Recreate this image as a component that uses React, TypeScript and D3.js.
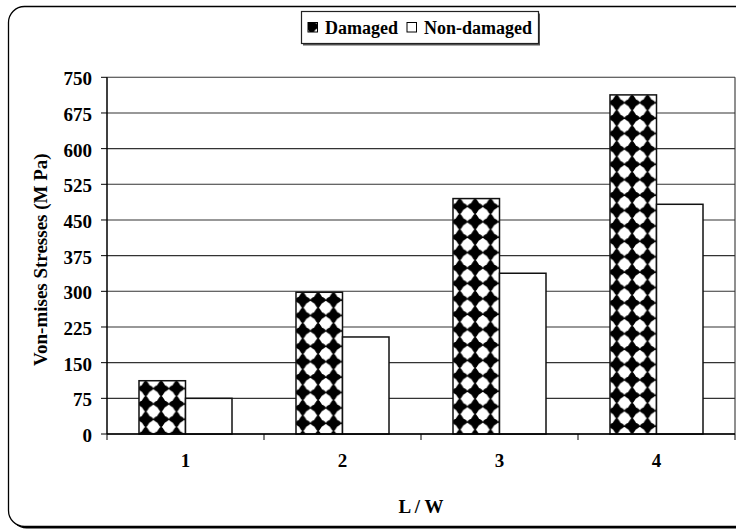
import React from "react";
import * as d3 from "d3";

const categories = ["1", "2", "3", "4"];
const seriesNames = ["Damaged", "Non-damaged"];
const damaged = [112, 298, 495, 713];
const nonDamaged = [75, 204, 338, 483];
const yTicks = [0, 75, 150, 225, 300, 375, 450, 525, 600, 675, 750];
const yTitle = "Von-mises Stresses (M Pa)";
const xTitle = "L / W";

const W = 736;
const H = 531;
const FONT = "'Liberation Serif', 'Times New Roman', serif";
const TILE = 15.4;

const left = 107;
const right = 735;
const top = 77.3;
const bottom = 434;

function PatternDef({ id, x, y }: { id: string; x: number; y: number }) {
  const s = TILE;
  const h = s / 2;
  const r = s * 0.37;
  return (
    <pattern id={id} patternUnits="userSpaceOnUse" x={x} y={y} width={s} height={s}>
      <rect width={s} height={s} fill="#fff" />
      <polygon points={`${h},-0.6 ${s + 0.6},${h} ${h},${s + 0.6} -0.6,${h}`} fill="#000" />
      <circle cx={0} cy={0} r={r} fill="#fff" />
      <circle cx={s} cy={0} r={r} fill="#fff" />
      <circle cx={0} cy={s} r={r} fill="#fff" />
      <circle cx={s} cy={s} r={r} fill="#fff" />
    </pattern>
  );
}

export default function App() {
  const x0 = d3
    .scaleBand<string>()
    .domain(categories)
    .range([left, right])
    .paddingInner(0.4076)
    .paddingOuter(0.2038);
  const x1 = d3.scaleBand<string>().domain(seriesNames).range([0, x0.bandwidth()]);
  const y = d3.scaleLinear().domain([0, 750]).range([bottom, top]);
  const step = x0.step();

  const bars = categories.flatMap((c, i) => [
    { key: `d${i}`, cat: c, s: seriesNames[0], v: damaged[i] },
    { key: `n${i}`, cat: c, s: seriesNames[1], v: nonDamaged[i] },
  ]);

  const boundaries = d3.range(categories.length + 1).map((i) => left + i * step);

  return (
    <div style={{ position: "absolute", left: 0, top: 0 }}>
      <svg width={W} height={H} style={{ display: "block" }}>
        <defs>
          {bars
            .filter((b) => b.s === seriesNames[0])
            .map((b) => (
              <PatternDef
                key={b.key}
                id={`pat-${b.key}`}
                x={(x0(b.cat) as number) + (x1(b.s) as number) - 1}
                y={y(b.v)}
              />
            ))}
          <PatternDef id="pat-legend" x={304} y={18.5} />
        </defs>
        {/* outer frame with shadow */}
        <rect x={10.5} y={8.5} width={760} height={520} rx={16} ry={16} fill="#000" />
        <rect x={8.5} y={6.5} width={760} height={520} rx={16} ry={16} fill="#fff" stroke="#000" strokeWidth={1.3} />

        {/* gridlines */}
        {yTicks.map((t) => (
          <line key={`g${t}`} x1={left} x2={right} y1={y(t)} y2={y(t)} stroke="#333" strokeWidth={1.1} />
        ))}
        <line x1={right} x2={right} y1={top} y2={bottom} stroke="#333" strokeWidth={1.1} />

        {/* bars */}
        {bars.map((b) => {
          const bx = (x0(b.cat) as number) + (x1(b.s) as number);
          const by = y(b.v);
          return (
            <rect
              key={b.key}
              x={bx}
              y={by}
              width={x1.bandwidth()}
              height={bottom - by}
              fill={b.s === seriesNames[0] ? `url(#pat-${b.key})` : "#fff"}
              stroke="#111"
              strokeWidth={1.5}
            />
          );
        })}

        {/* axes */}
        <line x1={left} x2={left} y1={top} y2={bottom} stroke="#000" strokeWidth={1.5} />
        <line x1={left} x2={right} y1={bottom} y2={bottom} stroke="#000" strokeWidth={1.5} />
        {yTicks.map((t) => (
          <g key={`t${t}`}>
            <line x1={left - 6} x2={left} y1={y(t)} y2={y(t)} stroke="#000" strokeWidth={1} />
            <text
              x={92}
              y={y(t) + 8}
              textAnchor="end"
              fontFamily={FONT}
              fontWeight="bold"
              fontSize={19}
              fill="#000"
            >
              {t}
            </text>
          </g>
        ))}
        {boundaries.map((bx, i) => (
          <line key={`xt${i}`} x1={bx} x2={bx} y1={bottom} y2={bottom + 6} stroke="#000" strokeWidth={1} />
        ))}
        {categories.map((c) => (
          <text
            key={`xl${c}`}
            x={(x0(c) as number) + x0.bandwidth() / 2}
            y={466.5}
            textAnchor="middle"
            fontFamily={FONT}
            fontWeight="bold"
            fontSize={19}
            fill="#000"
          >
            {c}
          </text>
        ))}
        <text
          x={(left + right) / 2}
          y={512.5}
          textAnchor="middle"
          fontFamily={FONT}
          fontWeight="bold"
          fontSize={19}
          fill="#000"
        >
          {xTitle}
        </text>
        <text
          transform={`translate(47.3, ${(bottom + top) / 2 + 4}) rotate(-90)`}
          textAnchor="middle"
          fontFamily={FONT}
          fontWeight="bold"
          fontSize={19}
          fill="#000"
        >
          {yTitle}
        </text>

        {/* legend */}
        <rect x={303} y={13.5} width={237} height={32} fill="#555" />
        <rect x={301.5} y={11.5} width={237} height={32} fill="#fff" stroke="#222" strokeWidth={1.2} />
        <rect x={308} y={22.5} width={9.5} height={9.5} fill="url(#pat-legend)" stroke="#000" strokeWidth={1} />
        <text x={325} y={34.3} fontFamily={FONT} fontWeight="bold" fontSize={18} fill="#000">
          {seriesNames[0]}
        </text>
        <rect x={407} y={22.5} width={9.5} height={9.5} fill="#fff" stroke="#000" strokeWidth={1} />
        <text x={424} y={34.3} fontFamily={FONT} fontWeight="bold" fontSize={18} fill="#000">
          {seriesNames[1]}
        </text>
      </svg>
    </div>
  );
}
